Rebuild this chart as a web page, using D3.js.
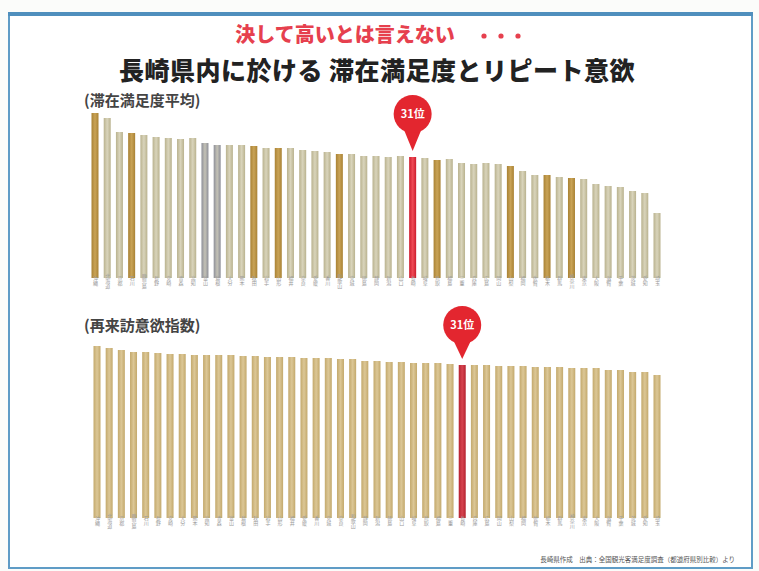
<!DOCTYPE html>
<html>
<head>
<meta charset="utf-8">
<script src="https://cdn.jsdelivr.net/npm/d3@7/dist/d3.min.js"></script>
<style>
  html, body { margin: 0; padding: 0; background: #ffffff; }
  svg { display: block; font-family: "Noto Sans CJK JP", "Noto Sans", sans-serif; }
</style>
</head>
<body>
<svg id="chart" width="759" height="571"></svg>
<script>
// Prefecture order and scores for stay satisfaction (upper panel)
const satisfactionPrefs = ["沖縄","北海道","京都","石川","鹿児島","長野","宮崎","青森","高知","富山",
  "島根","大分","熊本","秋田","岩手","山形","福井","奈良","愛媛","香川",
  "和歌山","宮城","徳島","静岡","新潟","山口","長崎","岐阜","鳥取","福島",
  "三重","兵庫","広島","岡山","山梨","福岡","佐賀","栃木","群馬","神奈川",
  "東京","大阪","滋賀","千葉","茨城","愛知","埼玉"];
const satisfactionValues = [165,160,146,145,143,141,140,139,140,135,
  133,133,133,132,130,130,130,128,127,126,
  124,124,122,122,121,122,121,120,118,119,
  115,114,115,114,112,107,103,103,101,100,
  99,94,92,91,87,85,65];
// bars printed in the darker gold tone
const satisfactionGold = ["沖縄","石川","秋田","山形","和歌山","鳥取","山梨","栃木","神奈川"];
const satisfactionGray = ["富山","島根"];

// Prefecture order and index for willingness to revisit (lower panel)
const revisitPrefs = ["沖縄","北海道","京都","鹿児島","石川","長野","宮崎","大分","熊本","高知",
  "青森","富山","島根","秋田","岩手","山形","福井","愛媛","香川","宮城",
  "奈良","和歌山","静岡","新潟","徳島","山口","岐阜","鳥取","福島","三重",
  "長崎","兵庫","広島","岡山","山梨","福岡","佐賀","栃木","群馬","神奈川",
  "東京","大阪","滋賀","千葉","茨城","愛知","埼玉"];
const revisitValues = [172,170,168,166,166,165,164,164,163,163,
  163,163,162,162,161,161,161,160,160,160,
  159,159,157,157,156,156,155,155,155,154,
  153,153,153,152,152,152,151,151,151,150,
  150,150,148,148,146,146,143];

const highlight = "長崎";
const rankLabel = "31位";
const titleRed = "決して高いとは言えない";
const titleMain = "長崎県内に於ける 滞在満足度とリピート意欲";
const panelTitles = ["(滞在満足度平均)", "(再来訪意欲指数)"];
const sourceNote = "長崎県作成　出典：全国観光客満足度調査（都道府県別比較）より";

const svg = d3.select("#chart");

// slide frame
svg.append("rect").attr("x", 0).attr("y", 0).attr("width", 759).attr("height", 571).attr("fill", "#fbfcfa");
svg.append("rect").attr("x", 9).attr("y", 15).attr("width", 743).attr("height", 553)
  .attr("fill", "#ffffff").attr("stroke", "#5f9cc6").attr("stroke-width", 2);
svg.append("line").attr("x1", 8).attr("x2", 753).attr("y1", 14).attr("y2", 14)
  .attr("stroke", "#4f8fbd").attr("stroke-width", 4);

// headings
svg.append("text").attr("x", 345).attr("y", 42).attr("text-anchor", "middle")
  .attr("font-size", 20).attr("font-weight", 900).attr("fill", "#e6404e").text(titleRed);
[0, 1, 2].forEach(i => {
  svg.append("circle").attr("cx", 484 + i * 17).attr("cy", 36).attr("r", 2.6).attr("fill", "#e6404e");
});
svg.append("text").attr("x", 377).attr("y", 80).attr("text-anchor", "middle")
  .attr("font-size", 25).attr("font-weight", 900).attr("fill", "#222222")
  .attr("letter-spacing", 0.5).text(titleMain);

// gradient fills giving the bars a soft rounded look
const defs = svg.append("defs");
function addGrad(id, edge, mid) {
  const g = defs.append("linearGradient").attr("id", id).attr("x1", "0%").attr("x2", "100%");
  g.append("stop").attr("offset", "0%").attr("stop-color", edge);
  g.append("stop").attr("offset", "50%").attr("stop-color", mid);
  g.append("stop").attr("offset", "100%").attr("stop-color", edge);
}
addGrad("gKhaki", "#b9b28e", "#d9d4bb");
addGrad("gGold", "#a98234", "#c9a356");
addGrad("gGray", "#8d8f99", "#c4c2b6");
addGrad("gTan", "#c3a96c", "#dcc796");
addGrad("gRed", "#cc1c2c", "#ef4a55");
addGrad("gRedDark", "#b52330", "#d64450");

function panel(cfg) {
  const x = d3.scalePoint().domain(cfg.prefs).range([cfg.x0, cfg.x1]);
  const y = d3.scaleLinear().domain([0, cfg.maxV]).range([cfg.base, cfg.base - cfg.maxH]);
  const g = svg.append("g");

  g.append("text").attr("x", 84).attr("y", cfg.titleY).attr("font-size", 15).attr("font-weight", 700)
    .attr("fill", "#444444").text(cfg.title);

  const bw = 7;
  g.selectAll("rect.bar").data(cfg.prefs).join("rect")
    .attr("class", "bar")
    .attr("x", d => x(d) - bw / 2)
    .attr("width", bw)
    .attr("y", (d, i) => y(cfg.values[i]))
    .attr("height", (d, i) => cfg.base - y(cfg.values[i]))
    .attr("fill", d => `url(#${cfg.fill(d)})`);

  // vertical prefecture labels under each bar
  const axis = g.append("g").attr("transform", `translate(0,${cfg.base + 3})`)
    .call(d3.axisBottom(x).tickSize(0).tickPadding(0));
  axis.select(".domain").remove();
  axis.selectAll("text")
    .attr("font-size", 5).attr("fill", "#9a9a9a")
    .attr("style", "writing-mode: vertical-rl; font-family: 'Noto Sans CJK JP', sans-serif;")
    .attr("dy", 0).attr("y", 0);

  // rank pin over the highlighted bar
  const hi = cfg.prefs.indexOf(highlight);
  const cx = x(highlight), cy = cfg.pinY, r = 19;
  const tip = y(cfg.values[hi]) - 6;
  g.append("path")
    .attr("d", `M${cx - 9},${cy + 15} L${cx},${tip} L${cx + 9},${cy + 15} Z`)
    .attr("fill", "#e3262f");
  g.append("circle").attr("cx", cx).attr("cy", cy).attr("r", r).attr("fill", "#e3262f");
  g.append("text").attr("x", cx).attr("y", cy + 4).attr("text-anchor", "middle")
    .attr("font-size", 11).attr("font-weight", 700).attr("fill", "#ffffff").text(rankLabel);
}

panel({
  prefs: satisfactionPrefs, values: satisfactionValues, title: panelTitles[0], titleY: 106,
  x0: 95, x1: 657, base: 278, maxV: 165, maxH: 165, pinY: 114,
  fill: d => d === highlight ? "gRed" : satisfactionGold.includes(d) ? "gGold" : satisfactionGray.includes(d) ? "gGray" : "gKhaki"
});

panel({
  prefs: revisitPrefs, values: revisitValues, title: panelTitles[1], titleY: 331,
  x0: 97, x1: 657, base: 518, maxV: 172, maxH: 172, pinY: 325,
  fill: d => d === highlight ? "gRedDark" : "gTan"
});

svg.append("text").attr("x", 735).attr("y", 562).attr("text-anchor", "end")
  .attr("font-size", 6.5).attr("fill", "#555555").text(sourceNote);
</script>
</body>
</html>
